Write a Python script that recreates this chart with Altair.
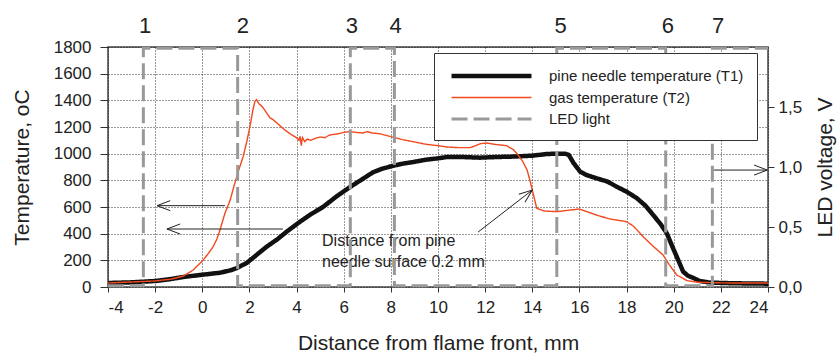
import altair as alt
import pandas as pd

# ---- data ----
t1_x = [-4, -3, -2, -1.4, -0.8, -0.1, 0.75, 1.2, 1.46, 1.88, 2.3, 2.73, 3.2, 3.58, 4.15, 4.6, 5.12, 5.7, 6.27, 6.8,
        7.24, 7.6, 8.0, 8.5, 8.94, 9.5, 10.0, 10.38, 11.0, 11.78, 12.5, 13.18, 14.0, 14.6, 15.0, 15.4, 15.55, 15.75,
        16.03, 16.3, 16.73, 17.2, 17.58, 18.0, 18.43, 18.8, 19.13, 19.45, 19.7, 19.95, 20.13, 20.4, 20.6, 20.84, 21.1,
        21.54, 22.5, 24]
t1_y = [30, 35, 45, 58, 75, 90, 107, 125, 142, 180, 240, 302, 360, 415, 490, 545, 600, 680, 750, 810,
        860, 885, 905, 925, 937, 955, 965, 975, 975, 970, 975, 978, 985, 997, 1000, 1000, 990, 930,
        865, 840, 815, 790, 752, 715, 667, 610, 540, 470, 405, 300, 227, 115, 85, 67, 45,
        33, 28, 25]

t2_x = [-4, -3, -2, -1.3, -0.8, -0.39, 0.03, 0.25, 0.46, 0.62, 0.75, 0.96, 1.18, 1.35, 1.55, 1.73, 1.9, 2.05, 2.15,
        2.24, 2.3, 2.4, 2.5, 2.6, 2.75, 2.87, 3.0, 3.2, 3.42, 3.6, 3.8, 4.0, 4.1, 4.15, 4.2, 4.25, 4.35, 4.45, 4.6,
        4.8, 5.0, 5.2, 5.4, 5.6, 5.8, 6.0, 6.27, 6.5, 6.8, 7.0, 7.2, 7.5, 7.96, 8.5, 8.94, 9.5, 10.0, 10.38, 10.9,
        11.36, 11.6, 11.8, 12.07, 12.4, 12.9, 13.2, 13.4, 13.6, 13.78, 13.9, 14.0, 14.19, 14.5, 15.03, 15.5, 16.0,
        16.4, 16.8, 17.3, 18.0, 18.3, 18.7, 19.1, 19.55, 19.8, 20.13, 20.56, 21.0, 21.67, 22.5, 24]
t2_y = [30, 38, 45, 60, 82, 127, 200, 250, 302, 360, 427, 553, 650, 760, 880, 975, 1100, 1230, 1330,
        1395, 1405, 1375, 1360, 1340, 1300, 1270, 1255, 1225, 1190, 1165, 1140, 1120, 1100, 1130, 1060, 1120, 1090,
        1110, 1100, 1115, 1125, 1120, 1140, 1145, 1150, 1160, 1165, 1160, 1155, 1165, 1155, 1150, 1130, 1105, 1090,
        1070, 1060, 1050, 1045, 1045, 1060, 1075, 1080, 1070, 1060, 1030, 990, 940, 877, 800, 727, 590, 570, 565,
        575, 585, 560, 535, 510, 490, 455, 378, 310, 240, 170, 90, 48, 36, 32, 30, 30]

led_x = [-4, -2.5, 1.5, 6.28, 8.15, 15.04, 19.66, 21.64, 24]
led_v = [0.01, 1.99, 0.01, 1.99, 0.01, 1.99, 0.01, 1.99, 1.99]

series_names = ["pine needle temperature (T1)", "gas temperature (T2)", "LED light"]

zone_labels = ["1", "2", "3", "4", "5", "6", "7"]
zone_x = [-2.43, 1.72, 6.35, 8.2, 15.2, 19.75, 21.88]

arrow_x0 = [0.96, 3.42, 21.67, 11.7]
arrow_y0 = [610, 435, 877, 412]
arrow_x1 = [-1.92, -1.5, 23.97, 14.0]
arrow_y1 = [610, 435, 877, 727]
arrow_angle = [180, 180, 0, 322]

note_text = "Distance from pine\nneedle surface 0.2 mm"
note_x = 5.08
note_y = 345

x_ticks = list(range(-4, 25, 2))
y_ticks = list(range(0, 1801, 200))
v_ticks = [0, 0.5, 1.0, 1.5]

# ---- tables ----
temp_df = pd.concat([
    pd.DataFrame({"x": t1_x, "y": t1_y, "series": series_names[0], "order": range(len(t1_x))}),
    pd.DataFrame({"x": t2_x, "y": t2_y, "series": series_names[1], "order": range(len(t2_x))}),
])
led_df = pd.DataFrame({"x": led_x, "v": led_v, "series": series_names[2]})
zone_df = pd.DataFrame({"x": zone_x, "label": zone_labels})
arrow_df = pd.DataFrame({"x0": arrow_x0, "y0": arrow_y0, "x1": arrow_x1, "y1": arrow_y1, "ang": arrow_angle})
note_df = pd.DataFrame({"x": [note_x], "y": [note_y], "t": [note_text]})

FONT = "Liberation Sans"
ORANGE = "#F04A1E"
GRAY = "#999999"

xscale = alt.Scale(domain=[-4, 24], nice=False, zero=False)
yscale = alt.Scale(domain=[0, 1800], nice=False)

color_scale = alt.Scale(domain=series_names, range=["#111111", ORANGE, GRAY])
width_scale = alt.Scale(type="ordinal", domain=series_names, range=[4.5, 1.4, 3])
dash_scale = alt.Scale(type="ordinal", domain=series_names, range=[[1, 0], [1, 0], [16, 6]])

legend = alt.Legend(
    title=None, orient="none", legendX=326, legendY=6, direction="vertical",
    symbolType="M -0.73 0 L 9.93 0", symbolSize=225, labelFontSize=15, labelFont=FONT, labelColor="#222",
    strokeColor="#333", fillColor="white", padding=13, labelOffset=82, rowPadding=4,
    labelLimit=400, symbolStrokeColor="#111"
)

axis_common = dict(
    labelFontSize=17, titleFontSize=21, labelFont=FONT, titleFont=FONT,
    domain=False, labelColor="#222", titleColor="#222", tickColor="#333", titleFontWeight="normal",
)

x_axis = alt.Axis(
    values=x_ticks, title="Distance from flame front, mm", grid=True,
    gridDash=[1, 2], gridColor="#000", gridOpacity=1, gridWidth=0.8,
    labelExpr="datum.value + ''",
    tickSize=5, labelPadding=7, titleY=56, titleBaseline="middle", **axis_common)

y_axis = alt.Axis(
    values=y_ticks, title="Temperature, oC", grid=True,
    gridDash=[1, 2], gridColor="#000", gridOpacity=1, gridWidth=0.8,
    labelExpr="datum.value + ''",
    tickSize=8, labelPadding=9, titleX=-86, titleY=120, titleBaseline="middle", titleAngle=270,
    **axis_common)


def X(field):
    return alt.X(field, type="quantitative", scale=xscale, axis=x_axis)


def Y(field):
    return alt.Y(field, type="quantitative", scale=yscale, axis=y_axis)


temp = alt.Chart(temp_df).mark_line(interpolate="linear").encode(
    x=X("x"),
    y=Y("y"),
    color=alt.Color("series:N", scale=color_scale, legend=legend),
    strokeWidth=alt.StrokeWidth("series:N", scale=width_scale, legend=legend),
    strokeDash=alt.StrokeDash("series:N", scale=dash_scale, legend=legend),
    order="order:Q",
    detail="series:N",
)

led = alt.Chart(led_df).mark_line(interpolate="step-after").encode(
    x=X("x"),
    y=alt.Y("v:Q", scale=alt.Scale(domain=[0, 2.0], nice=False), axis=alt.Axis(
        values=v_ticks, title="LED voltage, V", orient="right", grid=False,
        labelExpr="replace(format(datum.value, '.1f'), '.', ',')",
        tickSize=6, labelPadding=4, titleX=57, titleY=120, titleBaseline="middle", titleAngle=270,
        **axis_common)),
    color=alt.Color("series:N", scale=color_scale, legend=legend),
    strokeWidth=alt.StrokeWidth("series:N", scale=width_scale, legend=legend),
    strokeDash=alt.StrokeDash("series:N", scale=dash_scale, legend=legend),
)

zones = alt.Chart(zone_df).mark_text(fontSize=22, font=FONT, color="#222", baseline="middle").encode(
    x=X("x"), y=alt.value(-21), text="label:N")

arrow_lines = alt.Chart(arrow_df).mark_rule(color="#222", strokeWidth=1).encode(
    x=X("x0"), x2="x1:Q",
    y=Y("y0"), y2="y1:Q")

arrow_heads = alt.Chart(arrow_df).mark_point(
    shape="M -1 -0.38 L 0 0 L -1 0.38", filled=False, color="#222", strokeWidth=1, size=700, opacity=1
).encode(
    x=X("x1"), y=Y("y1"),
    angle=alt.Angle("ang:Q", scale=None))

note = alt.Chart(note_df).mark_text(
    align="left", baseline="middle", fontSize=16, font=FONT, color="#222", lineBreak="\n", lineHeight=21
).encode(x=X("x"), y=Y("y"), text="t:N")

left_layer = alt.layer(temp, arrow_lines, arrow_heads, note, zones)

chart = alt.layer(left_layer, led).resolve_scale(y="independent").properties(
    width=660, height=240,
    autosize=alt.AutoSizeParams(type="none"),
    padding={"left": 108, "top": 47, "right": 69, "bottom": 68},
    background="white",
).configure_view(stroke="#444", strokeWidth=1.5)

chart.save("out.html", embed_options={"renderer": "svg", "actions": False})
